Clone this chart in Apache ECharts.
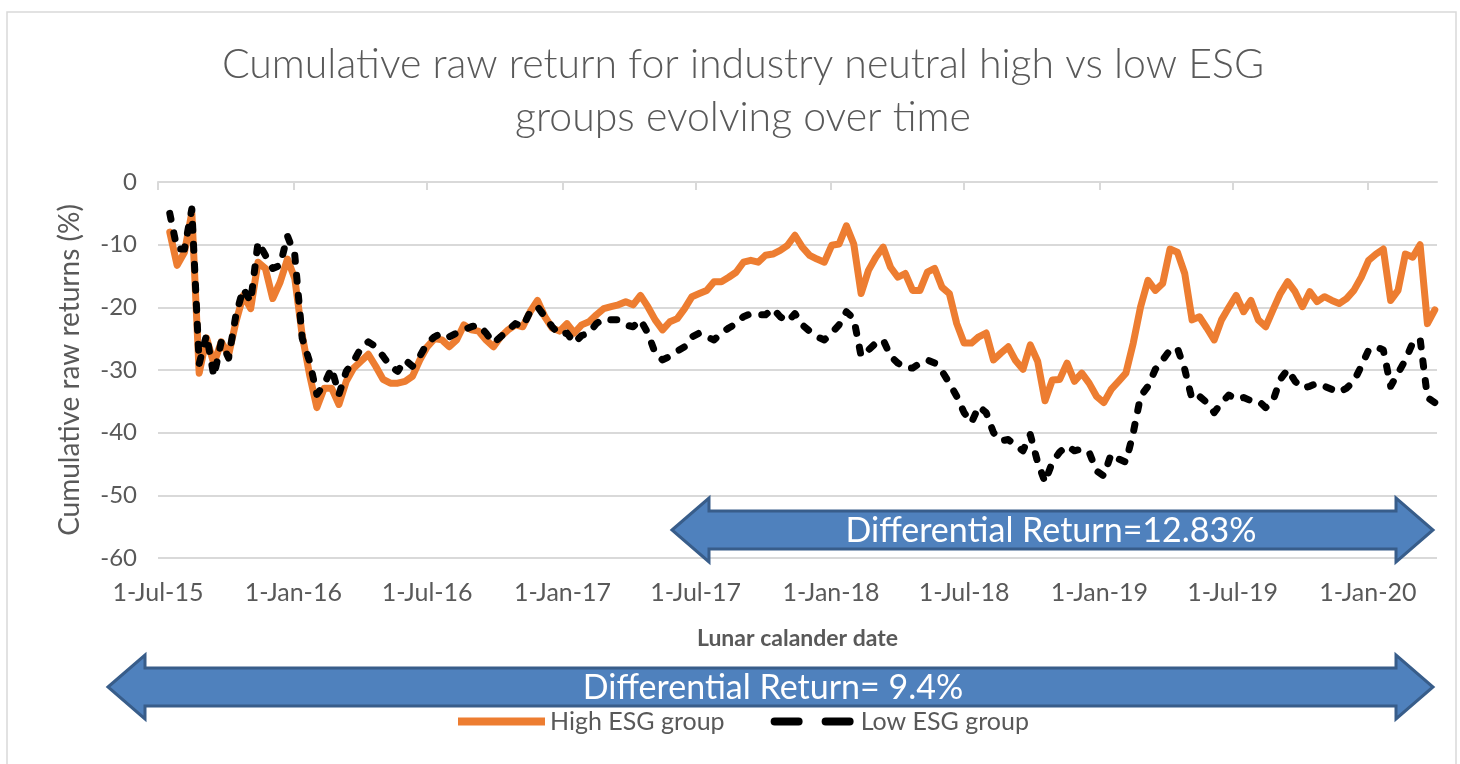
<!DOCTYPE html>
<html>
<head>
<meta charset="utf-8">
<script src="https://cdn.jsdelivr.net/npm/echarts@6/dist/echarts.min.js"></script>
<style>
html, body { margin: 0; padding: 0; background: #fff; }
#chart { width: 1460px; height: 764px; }
</style>
</head>
<body>
<div id="chart"></div>
<script>
// samples: one point every 10 days starting 17-Jul-15
var sampleStart = '2015-07-17'
var sampleStepDays = 10
var axisStart = '2015-07-01'
var axisEnd = '2020-04-04'
var tickDates = ['2015-07-01', '2016-01-01', '2016-07-01', '2017-01-01', '2017-07-01',
  '2018-01-01', '2018-07-01', '2019-01-01', '2019-07-01', '2020-01-01']
var yTicks = [0, -10, -20, -30, -40, -50, -60]
var seriesNames = ['High ESG group', 'Low ESG group']

var highEsg = [
  -8, -13.3, -11.2, -4.9, -30.5, -24.9, -29, -25.5, -27.6, -22.3,
  -18.1, -20.2, -12.8, -13.8, -18.6, -16, -12.3, -15.4, -24.4, -30.7,
  -36, -32.9, -32.9, -35.5, -31.8, -29.7, -28.6, -27.5, -29.4, -31.5,
  -32.1, -32.1, -31.8, -31, -28.4, -26.3, -25, -25.2, -26.3, -25.2,
  -22.8, -23.6, -23.8, -25.2, -26.3, -24.7, -23.6, -22.8, -23.1, -20.7,
  -18.9, -21.5, -23.3, -23.8, -22.6, -24.1, -22.8, -22.3, -21.2, -20.2,
  -19.9, -19.6, -19.1, -19.6, -18.1, -19.9, -22, -23.6, -22.3, -21.8,
  -20.2, -18.3, -17.8, -17.3, -15.9, -15.9, -15.2, -14.4, -12.8, -12.5,
  -12.8, -11.7, -11.5, -10.9, -10.1, -8.5, -10.4, -11.7, -12.3, -12.8,
  -10.1, -9.9, -7, -9.9, -17.8, -14.1, -12, -10.4, -13.6, -15.2,
  -14.6, -17.3, -17.3, -14.4, -13.8, -16.8, -17.8, -22.6, -25.7, -25.7,
  -24.7, -24.1, -28.4, -27.3, -26.3, -28.5, -29.9, -26, -28.6, -34.9,
  -31.6, -31.5, -28.9, -31.8, -30.5, -32.1, -34.2, -35.2, -33.1, -31.8,
  -30.5, -25.7, -19.9, -15.7, -17.3, -16.2, -10.7, -11.2, -14.6, -22,
  -21.5, -23.3, -25.2, -22, -20, -18.1, -20.7, -18.9, -22, -23.1,
  -20.4, -17.8, -15.9, -17.5, -19.9, -17.5, -19.1, -18.3, -18.9, -19.4,
  -18.6, -17.3, -15.2, -12.5, -11.5, -10.7, -18.9, -17.3, -11.5, -12,
  -10, -22.6, -20.4
]
var lowEsg = [
  -5, -10.7, -10.7, -4.3, -29, -24.4, -31, -25.5, -28.1, -21.2,
  -17, -19.1, -9.6, -11.7, -13.8, -13.3, -8.6, -11.7, -24.9, -28.6,
  -33.9, -32.3, -29.7, -33.9, -30.2, -28.6, -26.5, -25.5, -26.3, -27.8,
  -29.4, -30.2, -28.4, -29.4, -27.8, -25.7, -24.7, -24.1, -24.7, -24.1,
  -23.6, -23.1, -22.8, -24.1, -25.7, -24.7, -23.6, -22.6, -23.1, -20.7,
  -19.9, -21.5, -23.1, -24.4, -24.1, -25.7, -24.5, -24.1, -22.6, -21.8,
  -22, -22, -22.8, -23.1, -22, -24.1, -27.3, -28.4, -27.8, -27,
  -26.3, -24.7, -24.1, -24.7, -25.2, -24.1, -23.3, -22.6, -21.5, -21,
  -21.2, -21.2, -20.2, -21.5, -22.3, -21, -22.8, -23.8, -24.7, -25.2,
  -24.1, -22.8, -20.7, -21.8, -27.8, -26.8, -25.7, -25.2, -27.8, -28.9,
  -29.7, -29.7, -28.9, -28.4, -28.9, -30.2, -32.1, -34.2, -36.8, -38.4,
  -35.8, -36.8, -40, -41.3, -41.1, -42, -42.9, -40.3, -44.7, -47.9,
  -44.7, -43.1, -42.1, -42.9, -42.6, -43.1, -46.1, -46.9, -43.4, -44.2,
  -44.7, -40, -34.2, -32.6, -29.9, -28.4, -26.8, -26.5, -29.9, -34.7,
  -34.2, -35.2, -36.8, -35.2, -34, -34.7, -34.4, -34.9, -34.9, -36,
  -34.9, -31.5, -29.9, -31.8, -32.9, -32.6, -32.1, -32.6, -33.1, -33.6,
  -32.9, -31.8, -29.4, -26.8, -26.3, -26.8, -32.6, -30.5, -28.4, -25.7,
  -25, -34.4, -35.2
]
var arrowLabels = ['Differential Return=12.83%', 'Differential Return= 9.4%']

var DAY = 86400000
var months = ['Jan', 'Feb', 'Mar', 'Apr', 'May', 'Jun', 'Jul', 'Aug', 'Sep', 'Oct', 'Nov', 'Dec']
function fmtDate(ts) {
  var d = new Date(ts)
  return d.getUTCDate() + '-' + months[d.getUTCMonth()] + '-' + String(d.getUTCFullYear()).slice(2)
}
function toPairs(values) {
  var t0 = Date.parse(sampleStart)
  return values.map(function(v, i) { return [t0 + i * sampleStepDays * DAY, v] })
}
var tickTs = tickDates.map(function(s) { return Date.parse(s) })

var FONT = 'Lato, "Open Sans", sans-serif'
var GREY = '#595959'

// block arrow outline (annotation only)
function arrowPoints(x0, x1, cy, hw, hh, sh) {
  return [[x0, cy], [x0 + hw, cy - hh], [x0 + hw, cy - sh], [x1 - hw, cy - sh], [x1 - hw, cy - hh],
    [x1, cy], [x1 - hw, cy + hh], [x1 - hw, cy + sh], [x0 + hw, cy + sh], [x0 + hw, cy + hh]]
}
function arrow(x0, x1, cy, label, textX) {
  return [{
    type: 'polygon',
    z: 100,
    shape: { points: arrowPoints(x0, x1, cy, 37, 32, 19) },
    style: { fill: '#4f81bd', stroke: '#385d8a', lineWidth: 3 }
  }, {
    type: 'text',
    z: 101,
    style: {
      text: label, x: textX, y: cy + 1, fill: '#fff',
      font: '34px ' + FONT, align: 'center', verticalAlign: 'middle'
    }
  }]
}

var myChart = echarts.init(document.getElementById('chart'))
var xMin = Date.parse(axisStart)
var xMax = Date.parse(axisEnd)

var option = {
  backgroundColor: '#fff',
  animation: false,
  textStyle: { fontFamily: FONT },
  title: {
    text: 'Cumulative raw return for industry neutral high vs low ESG\ngroups evolving over time',
    left: 738,
    top: 33,
    textAlign: 'center',
    textStyle: {
      fontFamily: FONT, fontSize: 41, fontWeight: 300, color: GREY, lineHeight: 53
    }
  },
  legend: {
    left: 458,
    top: 709,
    padding: 0,
    itemWidth: 87,
    itemHeight: 8,
    itemGap: 46,
    textStyle: { fontFamily: FONT, fontSize: 25, color: GREY },
    data: [
      { name: seriesNames[0], icon: 'path://M0,0h87v8h-87z' },
      { name: seriesNames[1], icon: 'path://M4,0h24a4,4 0 0 1 0,8h-24a4,4 0 0 1 0,-8z M55,0h24a4,4 0 0 1 0,8h-24a4,4 0 0 1 0,-8z' }
    ]
  },
  grid: { left: 158, right: 23, top: 182, bottom: 206, containLabel: false },
  xAxis: [{
    type: 'value',
    position: 'bottom',
    min: xMin,
    max: xMax,
    name: 'Lunar calander date',
    nameLocation: 'middle',
    nameGap: 69,
    nameTextStyle: { fontFamily: FONT, fontSize: 23, fontWeight: 'bold', color: GREY },
    axisLine: { show: false },
    axisTick: { show: false },
    splitLine: { show: false },
    axisLabel: {
      customValues: tickTs,
      formatter: fmtDate,
      margin: 22,
      fontSize: 25,
      color: GREY,
      fontFamily: FONT
    }
  }, {
    type: 'value',
    position: 'top',
    min: xMin,
    max: xMax,
    axisLine: { show: true, lineStyle: { color: '#d9d9d9', width: 2 } },
    axisTick: { show: true, inside: true, length: 8, customValues: tickTs, lineStyle: { color: '#d9d9d9', width: 2 } },
    axisLabel: { show: false },
    splitLine: { show: false }
  }],
  yAxis: {
    type: 'value',
    min: yTicks[yTicks.length - 1],
    max: yTicks[0],
    interval: 10,
    name: 'Cumulative raw returns (%)',
    nameLocation: 'middle',
    nameRotate: 90,
    nameGap: 74,
    nameTextStyle: { fontFamily: FONT, fontSize: 28, color: GREY },
    axisLine: { show: false },
    axisTick: { show: false },
    axisLabel: { margin: 21, fontSize: 24, color: GREY, fontFamily: FONT },
    splitLine: { lineStyle: { color: '#d9d9d9', width: 2 } }
  },
  series: [{
    name: seriesNames[0],
    type: 'line',
    data: toPairs(highEsg),
    showSymbol: false,
    symbol: 'none',
    color: '#ed7d31',
    lineStyle: { color: '#ed7d31', width: 7, join: 'round', cap: 'round' }
  }, {
    name: seriesNames[1],
    type: 'line',
    data: toPairs(lowEsg),
    showSymbol: false,
    symbol: 'none',
    color: '#000',
    lineStyle: { color: '#000', width: 7, type: [6, 14], join: 'round', cap: 'round' }
  }],
  graphic: [{
    type: 'rect',
    z: -1,
    shape: { x: 7, y: 12, width: 1449, height: 800 },
    style: { fill: 'none', stroke: '#d9d9d9', lineWidth: 1.5 }
  }].concat(arrow(672, 1433, 530, arrowLabels[0], 1051))
    .concat(arrow(108, 1433, 687, arrowLabels[1], 773))
}

myChart.setOption(option)
window.onresize = function() {
  myChart.resize()
}
</script>
</body>
</html>
